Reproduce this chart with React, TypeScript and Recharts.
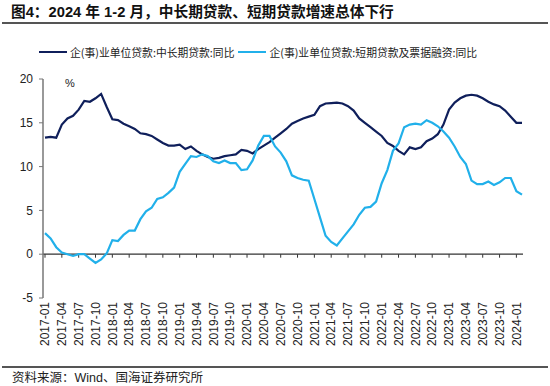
import React from 'react';
import { LineChart, Line, XAxis, YAxis, ReferenceLine } from 'recharts';

const LATIN = '"Liberation Sans", Arial, sans-serif';
const MIXED = '"Liberation Sans", "Noto Sans CJK SC", sans-serif';
const CJK = '"Noto Sans CJK SC", sans-serif';

const START_YEAR = 2017;

// 企(事)业单位贷款:中长期贷款:同比, monthly from 2017-01
const mediumLong = [
  13.3, 13.4, 13.3, 14.8, 15.5, 15.8, 16.5, 17.5, 17.4, 17.8, 18.3, 16.8,
  15.4, 15.3, 14.9, 14.6, 14.3, 13.8, 13.7, 13.5, 13.1, 12.7, 12.4, 12.4,
  12.5, 12.0, 12.3, 11.8, 11.4, 11.1, 10.9, 11.0, 11.2, 11.3, 11.4, 11.9,
  11.8, 11.5, 12.0, 12.4, 12.8, 13.3, 13.8, 14.3, 14.9, 15.2, 15.5, 15.7,
  15.9, 16.9, 17.2, 17.25, 17.3, 17.2, 16.9, 16.4, 15.5, 15.0, 14.5, 14.0,
  13.5, 12.7, 12.35, 11.8, 11.4, 12.2, 12.0, 12.2, 12.9, 13.2, 13.7, 14.8,
  16.5, 17.3, 17.8, 18.1, 18.2, 18.1, 17.8, 17.4, 17.1, 16.9, 16.4, 15.7,
  15.0, 15.0,
];

// 企(事)业单位贷款:短期贷款及票据融资:同比
const shortTerm = [
  2.4, 1.8, 0.8, 0.2, 0.0, -0.2, 0.0, 0.0, -0.5, -1.0, -0.6, 0.1,
  1.6, 1.5, 2.2, 2.7, 2.7, 4.0, 4.9, 5.3, 6.3, 6.5, 7.0, 7.6,
  9.4, 10.3, 11.2, 11.1, 11.4, 11.2, 10.6, 10.4, 10.7, 10.4, 10.4, 9.6,
  9.7, 10.7, 12.4, 13.5, 13.5, 12.3, 11.6, 10.6, 9.0, 8.7, 8.5, 8.4,
  6.3, 4.2, 2.1, 1.4, 1.0, 1.8, 2.6, 3.4, 4.5, 5.3, 5.4, 6.0,
  8.1, 9.6, 11.8, 12.65, 14.5, 14.8, 14.9, 14.8, 15.3, 15.0, 14.6, 14.0,
  13.3, 12.3, 11.1, 10.3, 8.4, 8.0, 8.0, 8.3, 7.9, 8.2, 8.7, 8.7,
  7.2, 6.8,
];

const yTicks = [-5, 0, 5, 10, 15, 20];

const series = [
  { key: 'mediumLong', name: '企(事)业单位贷款:中长期贷款:同比', color: '#0f1f5b' },
  { key: 'shortTerm', name: '企(事)业单位贷款:短期贷款及票据融资:同比', color: '#21b0ea' },
];

const months = mediumLong.map((_, i) => {
  const y = START_YEAR + Math.floor(i / 12);
  const m = (i % 12) + 1;
  return `${y}-${String(m).padStart(2, '0')}`;
});

const data = months.map((month, i) => ({
  month,
  mediumLong: mediumLong[i],
  shortTerm: shortTerm[i],
}));

const tickMonths = months.filter((_, i) => i % 3 === 0);

const MonthTick = (props: any) => {
  const { x, y, payload } = props;
  return (
    <text
      x={x}
      y={y}
      transform={`rotate(-90, ${x}, ${y})`}
      textAnchor="end"
      dy="0.35em"
      fontSize={12}
      fontFamily={LATIN}
      fill="#222"
    >
      {payload.value}
    </text>
  );
};

function ChartLegend() {
  return (
    <div
      style={{
        position: 'absolute',
        left: 39,
        top: 44,
        display: 'flex',
        alignItems: 'center',
        fontFamily: CJK,
        fontSize: 10.8,
        color: '#222',
        lineHeight: '16px',
        whiteSpace: 'nowrap',
      }}
    >
      {series.map((s) => (
        <div key={s.key} style={{ display: 'flex', alignItems: 'center', marginRight: 4 }}>
          <span style={{ width: 28, height: 2.5, background: s.color, marginRight: 3 }} />
          <span>{s.name}</span>
        </div>
      ))}
    </div>
  );
}

export default function App() {
  return (
    <div
      style={{
        position: 'absolute',
        left: 0,
        top: 0,
        width: 550,
        height: 386,
        background: '#fff',
        overflow: 'hidden',
      }}
    >
      <div
        style={{
          position: 'absolute',
          left: 11,
          top: 3,
          fontFamily: MIXED,
          fontWeight: 'bold',
          fontSize: 14.7,
          lineHeight: '18px',
          color: '#111',
          whiteSpace: 'nowrap',
        }}
      >
        图4：2024 年 1-2 月，中长期贷款、短期贷款增速总体下行
      </div>
      <div style={{ position: 'absolute', left: 2, top: 22, width: 546, height: 1.5, background: '#555' }} />

      <ChartLegend />

      <div style={{ position: 'absolute', left: 0, top: 0 }}>
        <LineChart width={550} height={386} data={data} margin={{ top: 79, right: 27, bottom: 33, left: 0 }}>
          <XAxis
            dataKey="month"
            interval={2}
            axisLine={false}
            tickLine={false}
            tickSize={0}
            tickMargin={4}
            height={55}
            padding={{ left: 2, right: 1 }}
            tick={<MonthTick />}
          />
          <YAxis
            domain={[-5, 20]}
            ticks={yTicks}
            width={43}
            axisLine={{ stroke: '#777', strokeWidth: 1.5 }}
            tickLine={{ stroke: '#777' }}
            tickSize={4}
            tickMargin={6}
            tick={{ fontSize: 12, fontFamily: LATIN, fill: '#222' }}
            interval={0}
          />
          <ReferenceLine y={0} stroke="#333" strokeWidth={1.2} />
          {tickMonths.map((m) => (
            <ReferenceLine
              key={m}
              segment={[
                { x: m, y: 0 },
                { x: m, y: -0.4 },
              ]}
              stroke="#333"
              strokeWidth={1}
            />
          ))}
          {series.map((s) => (
            <Line
              key={s.key}
              type="linear"
              dataKey={s.key}
              name={s.name}
              stroke={s.color}
              strokeWidth={2.2}
              dot={false}
              isAnimationActive={false}
            />
          ))}
        </LineChart>
      </div>

      <div
        style={{
          position: 'absolute',
          left: 65,
          top: 77,
          fontFamily: LATIN,
          fontSize: 11,
          color: '#222',
        }}
      >
        %
      </div>

      <div style={{ position: 'absolute', left: 2, top: 366, width: 546, height: 1.5, background: '#555' }} />
      <div
        style={{
          position: 'absolute',
          left: 12,
          top: 370,
          fontFamily: MIXED,
          fontSize: 12.5,
          lineHeight: '16px',
          color: '#222',
          whiteSpace: 'nowrap',
        }}
      >
        资料来源：Wind、国海证券研究所
      </div>
    </div>
  );
}
